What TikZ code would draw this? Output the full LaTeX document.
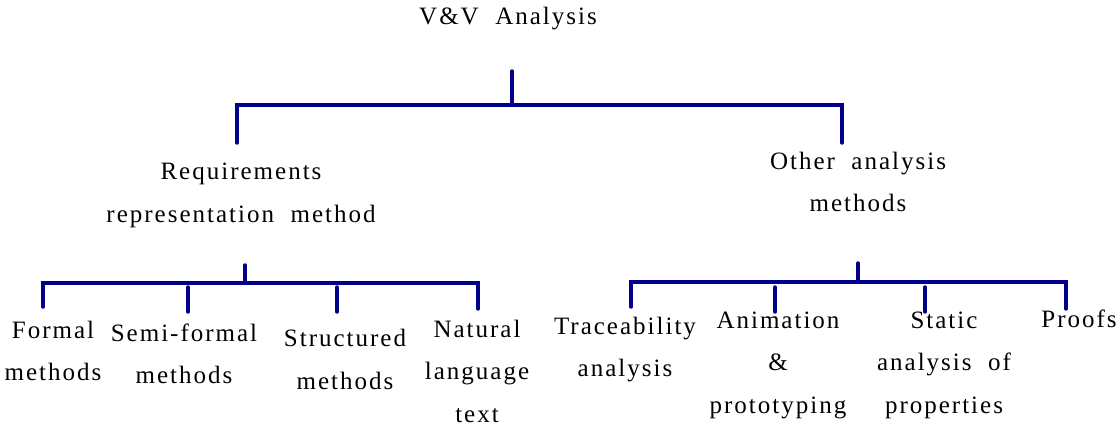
\documentclass[tikz,border=0pt]{standalone}
\usepackage{fontspec}
\setmainfont{Liberation Serif}[LetterSpace=8,WordSpace=2]
\definecolor{navybar}{RGB}{0,0,139}
\begin{document}
\begin{tikzpicture}[x=1pt,y=-1pt,
  bar/.style={draw=navybar,line width=3.4pt,line cap=round,line join=miter},
  lbl/.style={anchor=base,align=center,inner sep=0pt,text=black,
              font=\fontsize{25}{42.5}\selectfont}]
\useasboundingbox (0,0) rectangle (1116,427);

% labels (anchor = baseline of the last line)
\node[lbl] (vv) at (508,25) {V\&V Analysis};
\node[lbl] (req) at (241,222.5) {Requirements\\representation method};
\node[lbl] (other) at (858,212) {Other analysis\\methods};
\node[lbl] (formal) at (53,381) {Formal\\methods};
\node[lbl] (semi) at (184,384) {Semi-formal\\methods};
\node[lbl] (struct) at (345,389) {Structured\\methods};
\node[lbl] (natural) at (477,422) {Natural\\language\\text};
\node[lbl] (trace) at (625,377) {Traceability\\analysis};
\node[lbl] (anim) at (778,413) {Animation\\\&\\prototyping};
\node[lbl] (static) at (944,413) {Static\\analysis of\\properties};
\node[lbl] (proofs) at (1079,328) {Proofs};

% top level tree
\coordinate (rootTop) at (512,71);
\coordinate (rootBar) at (512,105);
\coordinate (barL) at (237,105);
\coordinate (barR) at (842,105);
\coordinate (reqTop) at (237,143);
\coordinate (otherTop) at (842,143);
\draw[bar] (rootTop) -- (rootBar);
\draw[bar] (reqTop) -- (barL) -- (barR) -- (otherTop);

% left subtree
\coordinate (reqStem) at (245,265);
\coordinate (reqBar) at (245,283);
\coordinate (lbL) at (43,283);
\coordinate (lbR) at (478,283);
\coordinate (formalTop) at (43,307);
\coordinate (naturalTop) at (478,309);
\coordinate (semiA) at (188,287);
\coordinate (semiB) at (188,312);
\coordinate (structA) at (337,287);
\coordinate (structB) at (337,312);
\draw[bar] (reqStem) -- (reqBar);
\draw[bar] (formalTop) -- (lbL) -- (lbR) -- (naturalTop);
\draw[bar] (semiA) -- (semiB);
\draw[bar] (structA) -- (structB);

% right subtree
\coordinate (otherStem) at (858,263);
\coordinate (otherBar) at (858,282);
\coordinate (rbL) at (631,282);
\coordinate (rbR) at (1066,282);
\coordinate (traceTop) at (631,307);
\coordinate (proofsTop) at (1066,309);
\coordinate (animA) at (775,287);
\coordinate (animB) at (775,312);
\coordinate (staticA) at (925,287);
\coordinate (staticB) at (925,312);
\draw[bar] (otherStem) -- (otherBar);
\draw[bar] (traceTop) -- (rbL) -- (rbR) -- (proofsTop);
\draw[bar] (animA) -- (animB);
\draw[bar] (staticA) -- (staticB);
\end{tikzpicture}
\end{document}
